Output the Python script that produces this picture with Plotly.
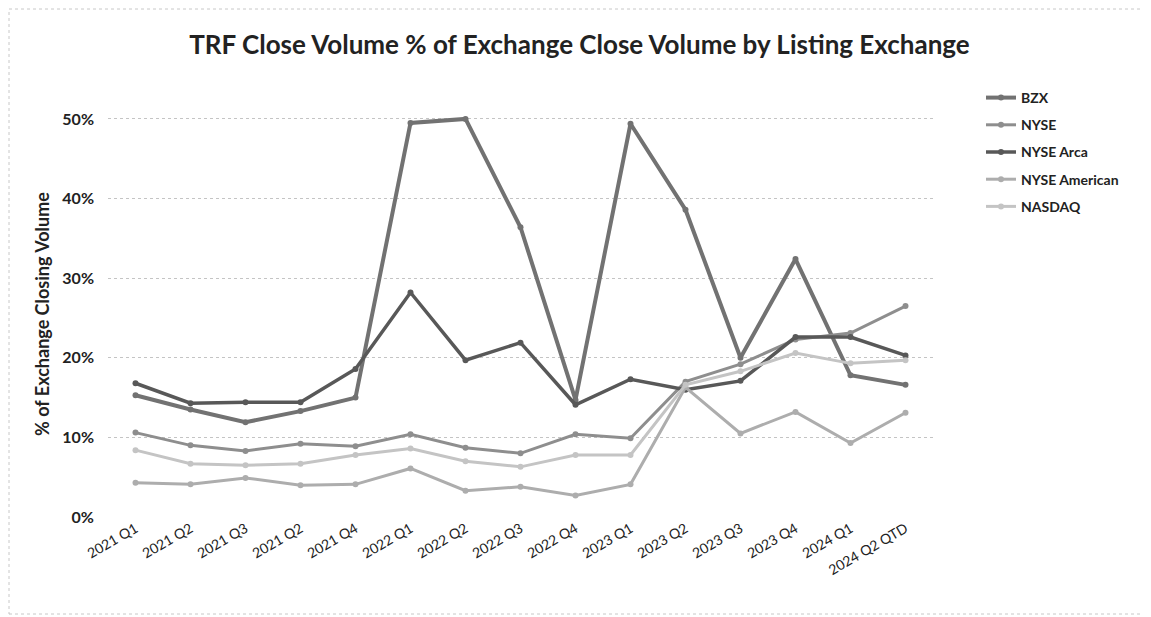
import plotly.graph_objects as go

categories = ["2021 Q1", "2021 Q2", "2021 Q3", "2021 Q2", "2021 Q4", "2022 Q1", "2022 Q2",
              "2022 Q3", "2022 Q4", "2023 Q1", "2023 Q2", "2023 Q3", "2023 Q4", "2024 Q1", "2024 Q2 QTD"]
bzx = [15.3, 13.5, 11.9, 13.3, 15.0, 49.5, 50.0, 36.4, 14.7, 49.4, 38.6, 20.0, 32.4, 17.8, 16.6]
nyse = [10.6, 9.0, 8.3, 9.2, 8.9, 10.4, 8.7, 8.0, 10.4, 9.9, 17.0, 19.2, 22.3, 23.1, 26.5]
nyse_arca = [16.8, 14.3, 14.4, 14.4, 18.6, 28.2, 19.7, 21.9, 14.1, 17.3, 16.0, 17.1, 22.6, 22.6, 20.3]
nyse_american = [4.3, 4.1, 4.9, 4.0, 4.1, 6.1, 3.3, 3.8, 2.7, 4.1, 16.3, 10.5, 13.2, 9.3, 13.1]
nasdaq = [8.4, 6.7, 6.5, 6.7, 7.8, 8.6, 7.0, 6.3, 7.8, 7.8, 16.6, 18.3, 20.6, 19.3, 19.7]

series = [
    ("BZX", bzx, "#727272", 4),
    ("NYSE", nyse, "#8e8e8e", 3),
    ("NYSE Arca", nyse_arca, "#585858", 3.5),
    ("NYSE American", nyse_american, "#adadad", 3),
    ("NASDAQ", nasdaq, "#c4c4c4", 3),
]

x = list(range(len(categories)))
fig = go.Figure()
for name, vals, color, w in series:
    fig.add_trace(go.Scatter(
        x=x, y=[v / 100 for v in vals], name=name, mode="lines+markers",
        line=dict(color=color, width=w), marker=dict(color=color, size=6),
        legendgroup=name,
    ))

# page has an 8px body margin; figure sized to fit the window
OFF = 8
W, H = 1151 - OFF, 617 - OFF
L, T = 108 - OFF, 111 - OFF
R = W - (933 - OFF)
B = H - (517 - OFF)
pw, ph = W - L - R, H - T - B

fig.update_layout(
    width=W, height=H,
    margin=dict(l=L, r=R, t=T, b=B),
    paper_bgcolor="white", plot_bgcolor="white",
    font=dict(family="Lato, 'Open Sans', sans-serif", color="#222"),
    title=dict(text="<b>TRF Close Volume % of Exchange Close Volume by Listing Exchange</b>",
               x=0.5, xanchor="center", y=1 - (45 - OFF) / H, yanchor="middle",
               font=dict(size=26, color="#222")),
    showlegend=True,
    legend=dict(x=(981 - OFF - L) / pw, y=1 + (T - (82 - OFF)) / ph, xanchor="left", yanchor="top",
                font=dict(size=14, color="#222", weight="bold"), tracegroupgap=6,
                bgcolor="rgba(0,0,0,0)"),
    xaxis=dict(tickvals=x, ticktext=categories, range=[-0.5, len(categories) - 0.5],
               tickangle=-30, showgrid=False, zeroline=False, showline=False,
               tickfont=dict(size=14, color="#222"), ticks=""),
    yaxis=dict(range=[0, 0.51], tickvals=[0, 0.1, 0.2, 0.3, 0.4, 0.5], tickformat=".0%",
               showgrid=True, gridcolor="#c4c4c4", griddash="dot", gridwidth=1,
               zeroline=False, showline=False, ticks="",
               tickfont=dict(size=16, color="#222", weight="bold"), ticklabelstandoff=13,
               title=dict(text="<b>% of Exchange Closing Volume</b>", font=dict(size=18, color="#222"),
                          standoff=8)),
)

# chart border (dotted)
fig.add_shape(type="rect", xref="paper", yref="paper",
              x0=-(L - 1) / pw, x1=1 + (R - 3) / pw, y0=-(B - 3) / ph, y1=1 + (T - 1) / ph,
              line=dict(color="#c8c8c8", width=1, dash="dot"), layer="below")

fig.write_html("out.html")
